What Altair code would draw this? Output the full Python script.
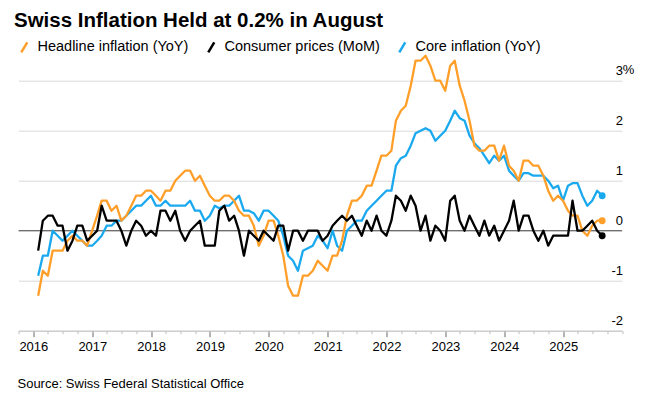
import calendar
import altair as alt
import pandas as pd

# ---------------- data ----------------
MONTHS = [f"{y}-{m:02d}-{calendar.monthrange(y, m)[1]:02d}"
          for y in range(2016, 2026) for m in range(1, 13)][:116]

headline = [
    -1.3, -0.8, -0.9, -0.4, -0.4, -0.4, -0.2, -0.1, -0.2, -0.2, -0.3, 0.0,   # 2016
    0.3, 0.6, 0.6, 0.4, 0.5, 0.2, 0.3, 0.5, 0.7, 0.7, 0.8, 0.8,              # 2017
    0.7, 0.6, 0.8, 0.8, 1.0, 1.1, 1.2, 1.2, 1.0, 1.1, 0.9, 0.7,              # 2018
    0.6, 0.6, 0.7, 0.7, 0.6, 0.4, 0.3, 0.3, 0.1, -0.3, -0.1, 0.2,            # 2019
    0.2, -0.1, -0.5, -1.1, -1.3, -1.3, -0.9, -0.9, -0.8, -0.6, -0.7, -0.8,   # 2020
    -0.5, -0.5, -0.2, 0.3, 0.6, 0.6, 0.7, 0.9, 0.9, 1.2, 1.5, 1.5,           # 2021
    1.6, 2.2, 2.4, 2.5, 2.9, 3.4, 3.4, 3.5, 3.3, 3.0, 3.0, 2.8,              # 2022
    3.3, 3.4, 2.9, 2.6, 2.2, 1.7, 1.6, 1.6, 1.7, 1.7, 1.4, 1.7,              # 2023
    1.3, 1.2, 1.0, 1.4, 1.4, 1.3, 1.3, 1.1, 0.8, 0.6, 0.7, 0.6,              # 2024
    0.4, 0.3, 0.3, 0.0, -0.1, 0.1, 0.2, 0.2,                                 # 2025
]

consumer_mom = [
    -0.4, 0.2, 0.3, 0.3, 0.1, 0.1, -0.4, -0.2, 0.1, 0.1, -0.2, -0.1,         # 2016
    0.0, 0.5, 0.2, 0.2, 0.2, 0.0, -0.3, 0.0, 0.2, 0.1, -0.1, 0.0,            # 2017
    -0.1, 0.4, 0.4, 0.2, 0.4, 0.0, -0.2, 0.0, 0.1, 0.2, -0.3, -0.3,          # 2018
    -0.3, 0.4, 0.5, 0.2, 0.3, 0.0, -0.5, 0.0, -0.1, -0.2, 0.0, -0.1,         # 2019
    -0.2, 0.1, 0.1, -0.4, 0.0, 0.0, -0.2, 0.0, 0.0, 0.0, -0.2, -0.1,         # 2020
    0.1, 0.2, 0.3, 0.2, 0.3, 0.1, -0.1, 0.2, 0.0, 0.3, 0.0, -0.1,            # 2021
    0.2, 0.7, 0.6, 0.4, 0.7, 0.5, 0.0, 0.3, -0.2, 0.1, 0.0, -0.2,            # 2022
    0.6, 0.7, 0.2, 0.0, 0.3, 0.1, -0.1, 0.2, -0.1, 0.1, -0.2, 0.0,           # 2023
    0.2, 0.6, 0.0, 0.3, 0.3, 0.0, -0.2, 0.0, -0.3, -0.1, -0.1, -0.1,         # 2024
    -0.1, 0.6, 0.0, 0.0, 0.1, 0.2, 0.0, -0.1,                                # 2025
]

core = [
    -0.9, -0.5, -0.5, 0.0, -0.1, -0.2, -0.1, 0.0, -0.1, -0.2, -0.3, -0.3,    # 2016
    -0.2, -0.1, 0.1, 0.1, 0.2, 0.2, 0.3, 0.4, 0.5, 0.5, 0.6, 0.7,            # 2017
    0.5, 0.5, 0.6, 0.5, 0.5, 0.5, 0.5, 0.6, 0.4, 0.4, 0.2, 0.3,              # 2018
    0.5, 0.45, 0.5, 0.5, 0.6, 0.7, 0.4, 0.4, 0.35, 0.2, 0.4, 0.4,            # 2019
    0.3, 0.2, -0.1, -0.5, -0.6, -0.8, -0.4, -0.35, -0.3, -0.1, -0.2, -0.35,  # 2020
    0.0, -0.3, -0.4, 0.0, 0.1, 0.2, 0.2, 0.4, 0.5, 0.6, 0.7, 0.8,            # 2021
    0.8, 1.3, 1.45, 1.5, 1.7, 1.95, 2.0, 2.05, 2.0, 1.8, 1.9, 2.0,           # 2022
    2.2, 2.4, 2.25, 2.2, 1.9, 1.75, 1.65, 1.5, 1.35, 1.5, 1.4, 1.5,          # 2023
    1.2, 1.1, 1.0, 1.15, 1.15, 1.1, 1.1, 1.1, 1.0, 0.85, 0.9, 0.6,           # 2024
    0.9, 0.95, 0.95, 0.7, 0.5, 0.6, 0.8, 0.7,                                # 2025
]

SER_H = "Headline inflation (YoY)"
SER_C = "Consumer prices (MoM)"
SER_K = "Core inflation (YoY)"
SERIES = [SER_H, SER_C, SER_K]
COLORS = ["#ff9f29", "#000000", "#1aa9ef"]

YEAR_TICKS = list(range(2016, 2026))
QUARTER_TICKS = [(2015, 10)] + [(y, m) for y in range(2016, 2026) for m in (1, 4, 7, 10)] + [(2026, 1)]
Y_TICKS = [-2, -1, 0, 1, 2, 3]

TITLE = "Swiss Inflation Held at 0.2% in August"
SOURCE = "Source: Swiss Federal Statistical Office"
FONT = "Liberation Sans"

# ---------------- tables ----------------
def frame(name, vals):
    return pd.DataFrame({"date": MONTHS[:len(vals)], "value": vals, "series": name})

df_h = frame(SER_H, headline)
df_c = frame(SER_C, consumer_mom)
df_k = frame(SER_K, core)
df_last = pd.DataFrame({
    "date": [MONTHS[len(headline) - 1], MONTHS[len(consumer_mom) - 1], MONTHS[len(core) - 1]],
    "value": [headline[-1], consumer_mom[-1], core[-1]],
    "series": [SER_H, SER_C, SER_K],
})

# ---------------- scales / guides ----------------
W, H = 603.5, 275

x_scale = alt.Scale(type="utc", domain=[alt.DateTime(year=2015, month=10, date=1, utc=True),
                                        alt.DateTime(year=2026, month=1, date=1, utc=True)])
y_scale = alt.Scale(domain=[-2, 3.5], nice=False, zero=False)
c_scale = alt.Scale(domain=SERIES, range=COLORS)

major_axis = alt.Axis(
    orient="bottom",
    values=[alt.DateTime(year=y, month=1, date=1, utc=True) for y in YEAR_TICKS],
    labelExpr="utcFormat(datum.value, '%Y')",
    grid=False, domain=True, domainColor="#c4c4c4", domainWidth=1,
    ticks=True, tickSize=6, tickColor="#666666", tickWidth=1,
    labelFont=FONT, labelFontSize=13, labelColor="#000000", labelPadding=3.5,
    labelFlush=False, labelOverlap=False,
    title=SOURCE, titleFont=FONT, titleFontSize=13, titleFontWeight="normal",
    titleColor="#000000", titleAnchor="start", titleAlign="left",
    titleBaseline="alphabetic", titleX=-1.5, titleY=56.5,
)
minor_axis = alt.Axis(
    orient="bottom",
    values=[alt.DateTime(year=y, month=m, date=1, utc=True) for y, m in QUARTER_TICKS],
    labels=False, grid=False, domain=False, ticks=True, tickSize=3,
    tickColor="#bdbdbd", tickWidth=1, title=None,
)
y_axis = alt.Axis(
    orient="right", values=Y_TICKS, grid=True, gridColor="#d9d9d9", gridWidth=1,
    domain=False, ticks=False, labelAlign="right", labelBaseline="alphabetic",
    labelPadding=0.5, labelOffset=-6.5, labelFont=FONT, labelFontSize=13,
    labelColor="#000000", labelExpr="datum.value == 3 ? '3' : '' + datum.value",
    title=None,
)
legend = alt.Legend(
    orient="none", legendX=-1.5, legendY=-16, direction="horizontal", title=None,
    symbolType="M-0.6,1L0.6,-1", symbolSize=100, symbolStrokeWidth=2.5,
    labelFont=FONT, labelFontSize=14.5, labelColor="#000000", labelOffset=6,
    columnPadding=14, padding=0,
)

# ---------------- layers ----------------
zero = alt.Chart(pd.DataFrame({"v": [0]})).mark_rule(color="#6f6f6f", strokeWidth=1.2).encode(
    y=alt.Y("v:Q", scale=y_scale, axis=y_axis)
)

def line(df, axis):
    return alt.Chart(df).mark_line(strokeWidth=2.3, strokeJoin="round").encode(
        x=alt.X("date:T", scale=x_scale, axis=axis),
        y=alt.Y("value:Q", scale=y_scale, axis=y_axis),
        color=alt.Color("series:N", scale=c_scale, legend=legend),
    )

l_core = line(df_k, major_axis)
l_head = line(df_h, None)
l_mom = line(df_c, None)

dots = alt.Chart(df_last).mark_circle(size=48, opacity=1).encode(
    x=alt.X("date:T", scale=x_scale, axis=minor_axis),
    y=alt.Y("value:Q", scale=y_scale, axis=y_axis),
    color=alt.Color("series:N", scale=c_scale, legend=None),
)

pct = alt.Chart(pd.DataFrame({"v": [3]})).mark_text(
    text="%", align="left", baseline="alphabetic", dy=-6.5, fontSize=13, font=FONT, color="#000000"
).encode(
    y=alt.Y("v:Q", scale=y_scale, axis=y_axis),
    x=alt.value(W + 0.7),
)

chart = (
    alt.layer(zero, l_core, l_head, l_mom, dots, pct)
    .resolve_axis(x="independent")
    .properties(
        width=W, height=H,
        autosize=alt.AutoSizeParams(type="none"),
        padding={"left": 10.5, "top": 47.7, "right": 19, "bottom": 60},
        title=alt.TitleParams(
            text=TITLE, anchor="start", frame="group", dx=-4.5, offset=8.5,
            font=FONT, fontSize=20.5, fontWeight="bold", color="#000000",
        ),
    )
    .configure(background="white")
    .configure_view(stroke=None)
)

chart.save("out.html", embed_options={"renderer": "svg", "actions": False})
